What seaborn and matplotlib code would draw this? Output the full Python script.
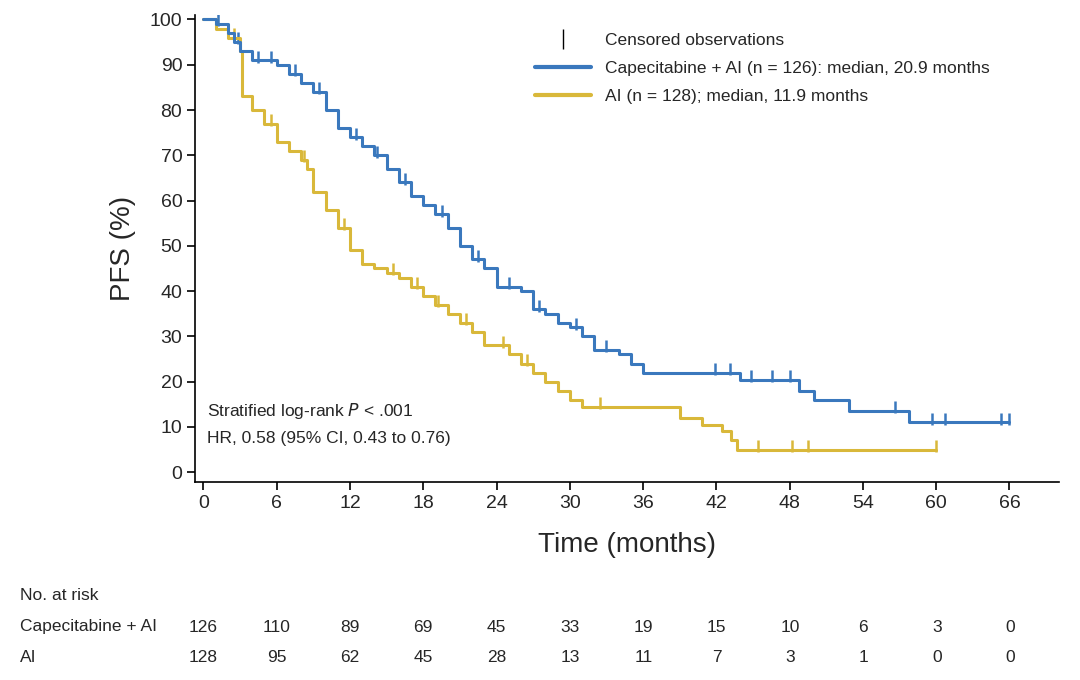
import numpy as np
import matplotlib
matplotlib.use("Agg")
import matplotlib.pyplot as plt
import seaborn as sns
import pandas as pd

sns.set_theme(style="ticks")
plt.rcParams['font.family'] = ['Liberation Sans', 'DejaVu Sans']

# Step points (time in months, PFS %)
cap_t = [0, 1, 2, 2.5, 3, 4, 6, 7, 8, 9, 10, 11, 12, 13, 14, 15, 16, 17, 18, 19, 20, 21, 22, 23, 24, 26, 27, 28, 29, 30, 31, 32, 34, 35, 36, 43.9, 48.8, 50, 52.9, 57.8, 66]
cap_s = [100, 99, 97, 95, 93, 91, 90, 88, 86, 84, 80, 76, 74, 72, 70, 67, 64, 61, 59, 57, 54, 50, 47, 45, 41, 40, 36, 35, 33, 32, 30, 27, 26, 24, 22, 20.4, 18, 16, 13.5, 11, 11]
ai_t = [0, 1, 2, 3, 3.2, 4, 5, 6, 7, 8, 8.5, 9, 10, 11, 12, 13, 14, 15, 16, 17, 18, 19, 20, 21, 22, 23, 25, 26, 27, 28, 29, 30, 31, 39, 40.8, 42.5, 43.2, 43.7, 60]
ai_s = [100, 98, 96, 93, 83, 80, 77, 73, 71, 69, 67, 62, 58, 54, 49, 46, 45, 44, 43, 41, 39, 37, 35, 33, 31, 28, 26, 24, 22, 20, 18, 16, 14.5, 12, 10.5, 9, 7, 5, 5]
cap_cens = [1.2, 2.8, 4.5, 5.5, 7.5, 9.5, 12.5, 14.2, 16.5, 19.5, 22.5, 25, 27.5, 30.5, 33, 41.9, 43.1, 44.8, 46.6, 48, 56.6, 59.7, 60.7, 65.3, 66]
ai_cens = [2.5, 5.5, 8.2, 11.5, 15.5, 17.5, 19.2, 21.5, 24.5, 26.5, 32.5, 45.4, 48.2, 49.5, 60]

risk_times = [0, 6, 12, 18, 24, 30, 36, 42, 48, 54, 60, 66]
cap_risk = [126, 110, 89, 69, 45, 33, 19, 15, 10, 6, 3, 0]
ai_risk = [128, 95, 62, 45, 28, 13, 11, 7, 3, 1, 0, 0]

BLUE = "#3a78bd"
YEL = "#d9b83a"

def step_val(ts, ss, t):
    idx = np.searchsorted(ts, t, side="right") - 1
    return ss[max(idx, 0)]

fig = plt.figure(figsize=(10.8, 6.8), dpi=100)
ax = fig.add_axes([0.181, 0.291, 0.80, 0.687])

df1 = pd.DataFrame({"t": cap_t, "s": cap_s})
df2 = pd.DataFrame({"t": ai_t, "s": ai_s})
sns.lineplot(data=df2, x="t", y="s", drawstyle="steps-post", color=YEL, lw=2.2, ax=ax, legend=False)
sns.lineplot(data=df1, x="t", y="s", drawstyle="steps-post", color=BLUE, lw=2.2, ax=ax, legend=False)
ax.scatter(cap_cens, [step_val(cap_t, cap_s, c) + 0.8 for c in cap_cens], marker="|", s=70, color=BLUE, lw=1.8)
ax.scatter(ai_cens, [step_val(ai_t, ai_s, c) + 0.8 for c in ai_cens], marker="|", s=70, color=YEL, lw=1.8)

ax.set_xlim(-0.65, 70.1)
ax.set_ylim(-2.2, 101)
ax.set_xticks(risk_times)
ax.set_yticks(range(0, 101, 10))
ax.tick_params(labelsize=14, length=6, width=1.2, color="black")
for s in ["top", "right"]:
    ax.spines[s].set_visible(False)
for s in ["left", "bottom"]:
    ax.spines[s].set_linewidth(1.2)
    ax.spines[s].set_color("black")
ax.set_xlabel("Time (months)", fontsize=20, labelpad=14)
ax.set_ylabel("PFS (%)", fontsize=20, labelpad=10)

from matplotlib.lines import Line2D
handles = [Line2D([], [], color="black", marker="|", ls="", ms=14, mew=1),
           Line2D([], [], color=BLUE, lw=3), Line2D([], [], color=YEL, lw=3)]
labels = ["Censored observations", "Capecitabine + AI (n = 126): median, 20.9 months",
          "AI (n = 128); median, 11.9 months"]
ax.legend(handles, labels, loc="upper left", bbox_to_anchor=(0.375, 0.995), frameon=False,
          fontsize=12.5, handlelength=3.2, labelspacing=0.75)

ax.text(0.3, 12.5, "Stratified log-rank $\\it{P}$ < .001", fontsize=12.5)
ax.text(0.3, 6.5, "HR, 0.58 (95% CI, 0.43 to 0.76)", fontsize=12.5)

fig.text(20/1080, 1 - 595/680, "No. at risk", fontsize=12.5, va="center")
fig.text(20/1080, 1 - 627/680, "Capecitabine + AI", fontsize=12.5, va="center")
fig.text(20/1080, 1 - 657/680, "AI", fontsize=12.5, va="center")
for t, a, b in zip(risk_times, cap_risk, ai_risk):
    xf = (203 + t * 12.23) / 1080
    fig.text(xf, 1 - 627/680, str(a), fontsize=12.5, ha="center", va="center")
    fig.text(xf, 1 - 657/680, str(b), fontsize=12.5, ha="center", va="center")

fig.savefig("out.png", dpi=100)
